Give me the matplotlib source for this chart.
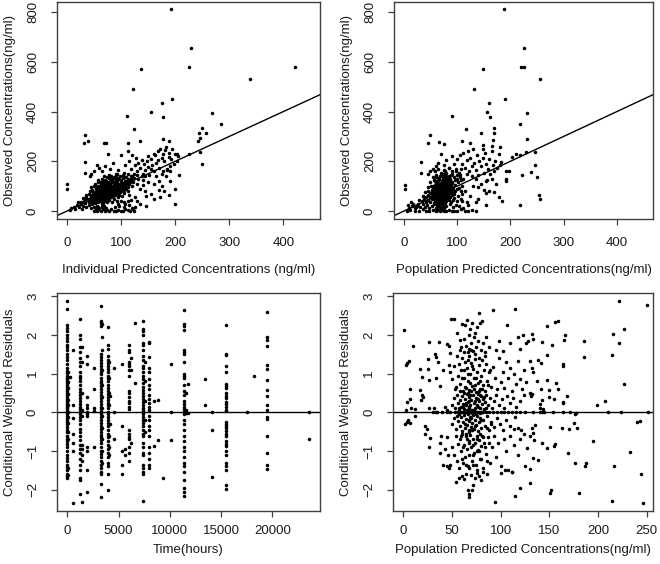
import matplotlib
matplotlib.use("Agg")
import matplotlib.pyplot as plt
import numpy as np

plt.rcParams['font.family'] = ['Liberation Sans', 'DejaVu Sans']

# ---------------- Panel A: IPRED vs observed ----------------
ipred_out = [(193,813),(229,655),(226,580),(422,580),(338,530),(136,572),(122,490),(194,450),
             (176,434),(155,397),(111,381),(178,380),(269,396),(285,352),(124,329),(249,333),
             (245,315),(257,315),(246,292),(243,280),(34,307),(38,282),(32,275),(69,272),(73,275),
             (113,272),(135,282),(34,197),(33,152),(0,107),(0,89),(177,289),(225,228),(249,188),
             (246,239),(204,230),(204,203),(207,145),(188,216),(184,256),(189,283),(199,27),
             (189,64),(172,58),(161,48),(147,21),(147,62)]
ipred_band = [(130,160),(135,175),(140,150),(142,190),(145,165),(148,200),(150,178),(152,145),
              (155,210),(158,185),(160,160),(162,225),(165,195),(168,240),(170,175),(172,250),
              (175,215),(178,230),(180,200),(182,245),(185,165),(188,235),(192,210),(195,250),
              (198,190),(168,205),(160,230),(155,170),(150,220),(145,140),(138,205),(132,195),
              (128,215),(125,185),(120,225),(118,170),(115,200),(112,240),(108,185),(105,155),
              (110,135),(100,225),(95,165),(90,150),(85,195),(80,170),(75,230),(70,180),(65,160),
              (60,175),(55,185),(50,160),(45,150),(42,140),(178,160),(185,170),(190,180),(175,150),
              (165,140),(190,160),(183,140),(200,230),(205,220),(170,120),(160,110),(150,115),
              (140,105),(175,100),(190,120),(200,90),(180,80),(170,85),(155,70),(145,80),(135,90),
              (130,110),(140,125),(120,140),(115,110)]
ipred_low = [(50,2),(55,0),(58,5),(62,2),(66,8),(70,0),(74,3),(78,0),(82,10),(86,2),(90,0),(95,5),
             (100,2),(104,0),(108,8),(112,3),(116,0),(120,12),(124,2),(58,15),(64,18),(72,12),
             (88,15),(96,20),(106,18),(114,25),(122,8),(125,18),(105,35),(112,40),(118,45),
             (108,28),(95,28),(100,42),(125,55),(130,40),(135,30)]
ipred_core = [(5,5),(8,12),(12,18),(15,8),(18,25),(22,15),(25,28),(28,10),(30,20),(33,32),(36,15),
              (40,25),(44,12),(47,30),(50,18),(53,10),(56,22),(60,14),(64,28),(68,20),
              (20,38),(26,35),(32,42),(36,48),(40,35),(43,45),(46,38),(49,42),(52,32),(55,44),
              (58,36),(61,40),(64,46),(67,34),(70,42),(74,38),(78,45),(84,36),(92,40),
              (30,52),(36,58),(40,50),(44,55),(47,60),(50,48),(52,56),(55,52),(57,60),(60,50),
              (62,58),(65,54),(68,60),(71,48),(74,56),(78,52),(82,58),(87,50),(94,55),(102,60),
              (35,65),(40,70),(44,62),(48,72),(51,66),(54,74),(56,64),(59,70),(61,62),(64,72),
              (66,68),(69,74),(72,64),(75,70),(78,66),(81,73),(85,62),(90,70),(97,66),(106,72),
              (115,64),(42,80),(46,85),(50,78),(53,88),(56,82),(58,76),(61,86),(63,80),(66,88),
              (68,78),(71,84),(73,90),(76,80),(79,86),(82,78),(85,88),(88,82),(92,86),(98,78),
              (104,88),(112,82),(45,95),(50,100),(54,92),(57,102),(60,96),(63,104),(66,94),
              (69,100),(72,96),(75,104),(78,92),(81,100),(84,96),(87,104),(90,94),(94,100),
              (99,96),(105,102),(112,95),(120,100),(52,110),(58,115),(62,108),(66,118),(70,112),
              (74,106),(77,116),(80,110),(83,118),(86,108),(89,114),(92,120),(95,110),(99,116),
              (103,108),(108,118),(114,112),(122,116),(58,125),(65,130),(72,122),(78,132),
              (83,126),(88,134),(92,124),(96,130),(100,126),(104,134),(108,122),(112,130),
              (117,126),(124,134),(132,128),(68,140),(78,145),(86,138),(93,148),(98,140),
              (103,146),(108,138),(113,148),(118,142),(124,150),(130,144),(138,140),
              (55,60),(60,65),(62,70),(65,75),(68,66),(70,80),(72,72),(74,85),(76,76),(78,90),
              (80,82),(82,95),(84,88),(86,100),(88,92),(90,105),(92,98),(95,108),(58,55),(63,50),
              (67,58),(71,62),(75,66),(79,72),(83,78),(87,85),(91,90),(96,95),(100,105),(104,112),
              (108,100),(56,70),(60,78),(64,85),(68,92),(72,100),(76,108),(80,115),(52,62),
              (48,55),(45,48),(50,40),(54,45),(58,48),(62,52)]
ipred_dense = [(46,42),(49,50),(51,45),(53,52),(55,48),(57,58),(59,52),(61,60),(63,56),(65,64),
               (67,58),(69,66),(71,70),(73,64),(75,74),(77,68),(79,78),(81,72),(83,82),(85,76),
               (87,90),(89,84),(91,94),(93,88),(95,98),(97,92),(99,104),(101,98),(103,110),
               (105,104),(107,114),(109,108),(111,120),(113,114),(115,124),(117,118),(119,130),
               (47,65),(51,72),(55,80),(59,88),(63,95),(67,102),(71,108),(75,115),(79,122),
               (83,128),(87,118),(91,125),(95,132),(53,38),(57,42),(61,46),(65,50),(69,54),
               (73,58),(77,62),(81,66),(85,70),(89,74),(93,78),(97,82),(101,86),(105,90),(109,94),
               (60,88),(64,98),(68,110),(56,95),(62,118),(70,125),(74,135),(82,140),(90,145),
               (64,40),(68,45),(72,50),(76,55),(80,60),(84,62),(88,66),(92,70),(96,75),(100,80),
               (106,84),(110,88)]

# ---------------- Panel B: PRED vs observed ----------------
pred_out = [(189,813),(225,655),(220,580),(226,580),(256,530),(149,572),(132,490),(190,450),
            (159,434),(157,397),(161,380),(91,381),(231,396),(219,352),(116,329),(170,333),
            (170,315),(145,315),(231,290),(49,307),(46,274),(66,277),(75,270),(32,196),(32,152),
            (2,105),(2,89),(204,216),(210,230),(218,225),(230,239),(247,239),(247,184),(238,157),
            (221,145),(250,137),(192,161),(198,161),(192,130),(192,120),(253,64),(255,48),
            (219,23),(155,23),(179,58),(184,39),(154,71),(173,107),(157,125),(180,185),(182,197),
            (178,231),(181,256),(166,262),(168,285),(149,248),(149,266),(124,275),(109,283)]
pred_band = [(100,210),(105,225),(110,190),(112,235),(115,175),(118,205),(120,240),(122,160),
             (125,215),(128,180),(130,250),(132,195),(135,165),(138,225),(140,145),(142,200),
             (145,180),(148,215),(150,155),(152,235),(155,190),(158,170),(160,210),(162,150),
             (165,240),(168,185),(170,160),(172,200),(175,175),(165,130),(155,120),(145,110),
             (135,130),(128,140),(118,150),(108,170),(95,190),(90,220),(85,175),(80,205),(75,185),
             (70,230),(65,195),(60,180),(55,170),(50,160),(45,150),(105,145),(112,130),(140,95),
             (150,85),(160,80),(170,75),(130,100),(125,60),(140,50),(135,35),(120,25),(110,40),
             (115,80),(100,130),(98,160),(90,150),(85,140)]
pred_low = [(5,0),(12,5),(20,2),(28,0),(35,8),(42,2),(48,0),(55,5),(60,0),(64,3),(68,0),(72,6),
            (76,2),(80,0),(85,4),(90,0),(95,2),(100,0),(108,8),(115,2),(120,0),(128,4),(135,0),
            (15,20),(22,15),(18,30),(25,22),(10,12)]
pred_core = [(8,25),(14,35),(20,12),(26,30),(30,18),(35,28),(40,15),(44,25),(48,12),(52,22),
             (56,30),(60,14),(64,26),(68,18),(72,28),(76,12),(80,22),(86,30),(92,16),(98,26),
             (104,20),(112,14),(28,45),(34,40),(38,48),(42,35),(46,44),(50,38),(53,48),(56,34),
             (59,42),(62,48),(65,36),(68,44),(71,38),(74,48),(77,34),(80,42),(84,46),(88,36),
             (93,44),(100,40),(108,48),(118,38),(36,60),(42,55),(46,65),(50,58),(53,68),(56,52),
             (58,62),(61,56),(63,66),(66,54),(68,64),(70,58),(72,68),(75,52),(77,62),(80,56),
             (83,66),(86,58),(90,64),(95,54),(102,62),(110,68),(40,75),(45,80),(49,72),(52,85),
             (55,78),(58,88),(60,74),(62,82),(64,76),(66,86),(68,72),(70,80),(72,88),(74,76),
             (76,84),(79,74),(82,86),(85,78),(89,84),(94,76),(100,88),(108,80),(46,95),(51,102),
             (55,92),(58,106),(61,98),(63,92),(65,104),(67,96),(69,108),(71,94),(73,100),(75,108),
             (77,92),(80,102),(83,96),(86,106),(90,98),(96,104),(103,94),(110,100),(50,115),
             (56,125),(60,112),(63,120),(66,128),(69,114),(72,122),(74,116),(77,126),(80,112),
             (83,120),(87,128),(91,116),(96,124),(102,118),(108,126),(54,135),(60,145),(65,132),
             (69,140),(73,148),(76,134),(80,142),(84,136),(89,146),(94,138),(100,144),(106,136),
             (58,160),(64,170),(70,155),(75,165),(80,152),(85,172),(90,160),(97,168),(104,155),
             (60,60),(62,70),(64,80),(66,90),(68,100),(70,62),(72,74),(74,86),(76,96),(78,70),
             (65,60),(67,72),(69,84),(71,96),(73,108),(75,80),(77,90),(70,48),(66,50),(62,40),
             (58,50),(55,64),(57,76),(59,86),(61,100),(63,110),(80,78),(82,92),(84,100),(86,86),
             (88,72),(78,58),(60,30),(66,28),(72,36)]
pred_dense = [(58,45),(60,52),(62,58),(63,64),(64,70),(65,76),(66,82),(67,88),(68,94),(69,100),
              (70,106),(71,112),(72,118),(73,124),(74,130),(75,136),(76,60),(77,66),(78,72),
              (79,78),(80,84),(81,90),(82,96),(83,102),(84,108),(85,114),(86,120),(87,126),
              (60,70),(61,80),(62,90),(63,100),(64,110),(65,120),(66,130),(67,140),(68,50),
              (69,56),(70,66),(71,76),(72,86),(73,96),(74,106),(75,116),(76,126),(77,40),(78,48),
              (79,98),(80,118),(81,128),(82,54),(83,64),(84,74),(85,84),(86,94),(88,104),(90,112),
              (92,90),(94,70),(96,80),(57,60),(56,70),(55,85),(54,100),(53,58),(52,75),(59,120),
              (61,135),(70,145),(75,150),(78,160),(66,40),(64,32),(72,44),(74,20),(70,10),(62,15)]

# ---------------- Panel C: time vs CWRES (columns of samples) ----------------
col_0 = [2.87,2.67,2.25,2.18,2.1,2.0,1.92,1.85,1.75,1.68,1.6,1.5,1.42,1.35,1.25,1.15,1.08,1.02,
         0.95,0.9,0.85,0.8,0.75,0.7,0.65,0.6,0.55,0.5,0.45,0.4,0.35,0.3,0.25,0.2,0.15,0.1,0.05,
         0.0,0.0,-0.05,-0.1,-0.15,-0.2,-0.25,-0.3,-0.38,-0.45,-0.52,-0.6,-0.68,-0.75,-0.82,-0.9,
         -1.0,-1.1,-1.18,-1.25,-1.35,-1.42,-1.5,-1.6,-1.65,-1.7]
col_60 = [1.05,0.92,0.78,0.62,0.48,0.32,0.18,0.02,-0.12,-0.28,-0.5,-0.7,-1.45,-1.62]
col_260 = [0.92]
col_600 = [-2.35,-1.0,-0.8,-0.55,-0.15,0.2,1.6]
col_1250 = [2.42,2.0,1.9,1.7,1.55,1.4,1.3,1.2,1.05,0.95,0.9,0.82,0.7,0.6,0.52,0.45,0.38,0.3,
            0.22,0.15,0.08,0.02,0.0,-0.05,-0.12,-0.2,-0.3,-0.42,-0.5,-0.6,-0.72,-0.85,-0.95,
            -1.05,-1.2,-1.35,-1.5,-1.7,-1.75,-2.1]
col_1450 = [1.7,1.3,0.5,0.05,-0.1,-0.85,-0.95,-1.1,-1.25,-2.32]
col_1950 = [1.45,1.25,0.4,0.2,0.1,0.0,-0.05,-0.1,-0.9,-1.0,-1.5,-2.07]
col_2650 = [1.15,0.6,0.12,0.03,-0.9]
col_3300 = [2.75,2.35,2.3,2.22,1.5,1.42,1.35,1.28,1.2,1.12,1.05,0.98,0.9,0.82,0.75,0.68,0.6,
            0.52,0.45,0.38,0.3,0.22,0.15,0.08,0.02,0.0,-0.05,-0.12,-0.2,-0.28,-0.35,-0.42,-0.5,
            -0.58,-0.65,-0.72,-0.8,-0.9,-1.0,-1.08,-1.15,-1.25,-1.35,-1.45,-1.55,-1.6,-1.85,-2.2]
col_3420 = [2.28,1.95,1.6,1.1,0.7,0.4,0.1,-0.1,-0.4,-0.7,-1.0,-1.3]
col_3950 = [2.2,1.75,1.65,1.45,1.35,1.28,1.2,1.12,1.05,0.95,0.88,0.8,0.7,0.62,0.55,0.48,0.4,
            0.32,0.25,0.18,0.1,0.02,-0.05,-0.12,-0.2,-0.28,-0.35,-0.45,-0.55,-0.65,-0.75,-0.85,
            -0.95,-1.05,-1.15,-1.3,-1.4,-1.6,-2.0]
col_4050 = [1.3,0.9,0.5,0.2,-0.3,-0.6,-0.9,-1.1]
col_4160 = [0.43,-0.3]
col_4600 = [1.15,0.0,-0.7]
col_5300 = [1.25,-0.35,-1.0,-1.35,-1.6]
col_5600 = [-1.1,-0.95]
col_6000 = [1.75,1.6,1.55,1.3,1.25,1.2,1.1,0.95,0.55,0.5,0.4,0.3,0.25,0.15,0.08,-0.45,-0.55,
            -0.65,-0.7,-0.9,-1.05,-1.25]
col_6200 = [1.1,1.4,-0.8]
col_6650 = [2.32,0.75]
col_7400 = [2.35,2.15,2.1,2.0,1.8,1.75,1.6,1.45,1.35,1.2,1.15,1.05,0.95,0.85,0.75,0.65,0.58,
            0.5,0.42,0.35,0.28,0.2,0.12,0.05,0.0,-0.05,-0.12,-0.2,-0.28,-0.35,-0.45,-0.55,-0.6,
            -0.8,-0.9,-1.05,-1.1,-1.35,-1.45,-1.55,-1.6,-2.28]
col_7550 = [1.3,0.8,0.3,-0.2,-0.5]
col_8000 = [1.82,1.8,1.42,1.15,1.05,0.85,0.7,0.6,0.45,0.35,0.25,0.15,0.05,-0.1,-0.2,-0.35,
            -0.45,-0.6,-0.9,-1.05,-1.2,-1.35,-1.45]
col_8500 = [0.3,-0.88]
col_8800 = [-0.72,0.32]
col_9300 = [-1.7]
col_10100 = [1.25,0.0,-0.72]
col_11400 = [2.65,2.28,2.22,2.12,1.6,1.55,1.5,1.3,1.0,0.95,0.88,0.7,0.55,0.45,0.3,0.22,0.15,
             0.08,0.02,0.0,-0.05,-0.2,-0.3,-0.45,-0.6,-0.75,-0.9,-1.0,-1.15,-1.3,-1.4,-1.55,
             -1.75,-1.95,-2.05,-2.15]
col_11600 = [0.05,-0.03,0.5]
col_11800 = [0.73,-0.03]
col_13450 = [0.87,0.18]
col_14130 = [-0.45,-1.68,0.0]
col_15450 = [2.25,1.5,1.47,1.2,1.05,0.73,0.67,0.62,0.5,0.43,0.36,0.28,0.22,0.14,0.07,0.03,
             -0.26,-0.31,-0.36,-0.4,-0.49,-0.55,-0.62,-0.75,-0.81,-0.88,-0.99,-1.09,-1.31,
             -1.4,-1.48,-1.87,-1.97]
col_17500 = [0.0]
col_18220 = [0.94]
col_19480 = [2.59,1.94,1.88,1.71,1.22,1.12,0.83,0.59,0.41,0.2,0.05,-0.13,-0.17,-0.62,-1.05,
             -1.36,-1.46]
col_23600 = [0.0,-0.7]

time_columns = [(0,col_0),(60,col_60),(260,col_260),(600,col_600),(1250,col_1250),
                (1450,col_1450),(1950,col_1950),(2650,col_2650),(3300,col_3300),
                (3420,col_3420),(3950,col_3950),(4050,col_4050),(4160,col_4160),
                (4600,col_4600),(5300,col_5300),(5600,col_5600),(6000,col_6000),
                (6200,col_6200),(6650,col_6650),(7400,col_7400),(7550,col_7550),
                (8000,col_8000),(8500,col_8500),(8800,col_8800),(9300,col_9300),
                (10100,col_10100),(11400,col_11400),(11600,col_11600),(11800,col_11800),
                (13450,col_13450),(14130,col_14130),(15450,col_15450),(17500,col_17500),
                (18220,col_18220),(19480,col_19480),(23600,col_23600)]

# ---------------- Panel D: PRED vs CWRES ----------------
cw_right = [(222,2.87),(250.4,2.78),(147.4,2.23),(156,2.34),(159,2.36),(166.5,2.0),(165.5,1.87),
            (142.5,1.81),(152.5,1.74),(133,1.9),(186,1.84),(186,1.44),(215.5,2.03),(226.8,2.16),
            (222,1.78),(214.5,1.47),(147.4,1.47),(138.7,1.36),(141.5,1.28),(164.5,1.26),
            (164.5,1.21),(130,1.34),(132.5,1.14),(133,1.04),(137.4,0.82),(147.4,0.84),(157,0.75),
            (159,0.6),(141.5,0.61),(149.4,0.58),(227,0.72),(130,0.49),(132,0.48),(131,0.41),
            (149.5,0.4),(155,0.35),(168,0.41),(143,0.33),(164.6,0.26),(164.6,0.23),(141,0.22),
            (141,0.11),(144,0.09),(207,0.3),(199.4,0.19),(133,0.0),(142.5,0.0),(154,0.0),
            (164.6,0.0),(171.8,0.0),(177,-0.02),(210,0.0),(224,0.01),(252,0.0),(176,-0.05),
            (243.3,-0.22),(239.9,-0.25),(175,-0.28),(162.8,-0.41),(170,-0.44),(178.5,-0.41),
            (151,-0.38),(135.4,-0.34),(132,-0.41),(133,-0.54),(134,-0.72),(142.5,-0.78),
            (156,-0.81),(155,-0.87),(148,-0.93),(194.6,-0.74),(233,-1.02),(169.6,-1.05),
            (133,-1.19),(138.7,-1.23),(130,-1.47),(176,-1.31),(188,-1.3),(187,-1.39),(217,-1.38),
            (244.6,-1.6),(130,-1.83),(151.8,-2.0),(151,-2.08),(181,-2.08),(215,-2.28),
            (246.7,-2.34)]
cw_left = [(0.7,2.14),(3,1.22),(4,1.28),(5.5,1.34),(7,0.61),(4,0.28),(7,0.34),(2,-0.3),
           (4,-0.25),(7,-0.28),(3,0.05),(8,0.1),(12,0.08),(5,-0.2),(9.6,1.71),(17,1.13),
           (19,0.91),(17,0.57),(19,0.46),(20,0.4),(18,0.31),(26.7,1.82),(25,1.39),(25,1.13),
           (26,0.83),(26.7,0.12),(26,-0.9),(27,-0.66),(22,-0.35),(24,-0.42),(22.6,-0.55),
           (12,-0.09),(33,1.52),(34,1.42),(36,1.3),(37,1.82),(41,1.1),(34,0.9),(38,0.68),
           (43,0.14),(44.5,0.05),(31.5,0.1),(33.5,0.01),(39,-0.6),(38,-0.8),(43,-0.94),
           (46,-1.11),(41,-1.36),(44.5,-1.38),(46.6,-1.43),(37.7,-1.04),(44.5,1.77),
           (46.6,1.72),(48,1.53),(49,2.42),(47,1.22)]
cw_core = [(52,2.42),(55,2.05),(58,1.62),(60,2.28),(62,1.9),(63,2.25),(64,1.72),(65,2.38),
           (66,1.55),(67,2.0),(68,1.65),(69,2.15),(70,1.78),(71,2.3),(72,1.58),(73,1.95),
           (74,2.05),(75,1.7),(76,2.2),(77,1.85),(78,2.58),(79,2.3),(80,1.6),(81,2.35),
           (82,1.78),(84,1.55),(85,1.95),(88,1.7),(92,2.65),(95,1.62),(98,1.85),(102,1.58),
           (107,2.25),(110,1.8),(115,2.68),(118,1.95),(120,1.65),(123,2.0),(126,1.78),
           (128,1.85),(132,2.02),(58,1.88),
           (48,1.05),(50,0.85),(52,1.2),(54,0.65),(55,1.45),(56,0.95),(57,1.25),(58,0.72),
           (59,1.1),(60,1.4),(61,0.55),(62,0.88),(63,1.3),(64,0.62),(65,1.15),(66,0.8),
           (67,1.45),(68,0.58),(69,1.0),(70,1.28),(71,0.68),(72,1.12),(73,0.9),(74,1.38),
           (75,0.52),(76,1.05),(77,0.75),(78,1.22),(79,0.6),(80,0.95),(81,1.35),(82,0.7),
           (83,1.1),(84,0.55),(85,1.25),(86,0.82),(88,1.05),(90,0.65),(92,1.18),(94,0.9),
           (96,0.6),(98,1.4),(100,0.78),(102,1.05),(104,0.62),(106,1.3),(108,0.88),(110,1.15),
           (112,0.55),(114,1.0),(116,0.72),(118,1.32),(120,0.85),(122,0.6),(124,1.1),(126,0.78),
           (50,0.2),(52,0.38),(53,0.12),(55,0.45),(56,0.25),(57,0.05),(58,0.32),(59,0.15),
           (60,0.42),(61,0.22),(62,0.08),(63,0.35),(64,0.18),(65,0.48),(66,0.28),(67,0.1),
           (68,0.4),(69,0.2),(70,0.32),(71,0.05),(72,0.45),(73,0.25),(74,0.12),(75,0.38),
           (76,0.2),(77,0.48),(78,0.3),(79,0.1),(80,0.42),(81,0.22),(82,0.35),(83,0.08),
           (84,0.28),(85,0.45),(87,0.18),(89,0.38),(91,0.12),(93,0.3),(95,0.45),(98,0.2),
           (101,0.35),(104,0.1),(107,0.42),(110,0.25),(113,0.38),(116,0.15),(120,0.3),
           (124,0.45),(62,0.5),(68,0.15),(74,0.3),(79,0.45),
           (30,0.0),(35,0.0),(40,0.0),(45,0.0),(48,0.0),(53,0.0),(56,0.0),(59,0.0),(61,0.0),
           (64,0.0),(66,0.0),(68,0.0),(70,0.0),(72,0.0),(74,0.0),(76,0.0),(78,0.0),(80,0.0),
           (82,0.0),(85,0.0),(88,0.0),(92,0.0),(96,0.0),(100,0.0),(104,0.0),(108,0.0),
           (112,0.0),(116,0.0),(120,0.0),(125,0.0),(140,0.0),(145,0.0),(62,-0.03),(67,0.03),
           (71,-0.02),(75,0.02),(79,-0.03),
           (50,-0.3),(52,-0.15),(54,-0.42),(56,-0.22),(57,-0.05),(58,-0.35),(59,-0.12),
           (60,-0.48),(61,-0.25),(62,-0.08),(63,-0.4),(64,-0.18),(65,-0.32),(66,-0.05),
           (67,-0.45),(68,-0.22),(69,-0.12),(70,-0.38),(71,-0.28),(72,-0.08),(73,-0.42),
           (74,-0.2),(75,-0.32),(76,-0.1),(77,-0.48),(78,-0.25),(79,-0.15),(80,-0.4),(82,-0.2),
           (84,-0.35),(86,-0.1),(88,-0.45),(90,-0.25),(93,-0.38),(96,-0.15),(99,-0.3),
           (102,-0.45),(106,-0.2),(110,-0.35),(114,-0.42),(118,-0.4),(121,-0.45),(115,-0.12),
           (45,-0.65),(48,-1.35),(50,-0.9),(52,-1.1),(54,-0.6),(55,-1.25),(56,-0.82),(57,-1.45),
           (58,-0.7),(59,-1.0),(60,-0.55),(61,-1.3),(62,-0.85),(63,-1.15),(64,-0.62),(65,-0.95),
           (66,-1.4),(67,-0.75),(68,-1.1),(69,-0.58),(70,-0.9),(71,-1.25),(72,-0.68),(73,-1.05),
           (74,-0.8),(75,-1.35),(76,-0.6),(77,-0.98),(78,-0.72),(79,-1.2),(80,-0.88),(81,-0.6),
           (82,-1.45),(83,-0.78),(85,-1.08),(87,-0.65),(89,-1.3),(91,-0.9),(93,-0.6),(95,-1.15),
           (97,-0.8),(100,-1.4),(103,-0.7),(106,-1.0),(108,-1.5),(110,-0.6),(112,-1.55),
           (114,-0.85),(118,-1.1),(120,-0.7),(124,-0.55),(127,-0.92),(130,-0.62),
           (54,-1.8),(57,-1.7),(60,-1.65),(62,-1.72),(64,-1.6),(66,-2.0),(67,-2.1),(68,-2.18),
           (70,-1.62),(71,-2.02),(72,-1.88),(74,-1.7),(76,-1.58),(78,-1.65),(80,-1.75),
           (82,-1.55),(86,-1.6),(94,-2.32),(100,-1.58),(105,-1.5),(112,-1.55),(115,-2.17),
           (120,-1.95),(125,-1.4)]
cw_dense = [(58,0.55),(59,-0.6),(60,0.9),(61,-0.9),(62,1.1),(63,-0.3),(64,0.25),(65,-0.7),
            (66,1.0),(67,0.3),(68,-0.5),(69,0.75),(70,-0.15),(71,1.2),(72,-0.85),(73,0.6),
            (74,-0.35),(75,0.9),(76,-0.7),(77,0.15),(78,-1.0),(79,0.8),(80,-0.2),(81,0.6),
            (82,-0.65),(83,0.4),(84,-0.9),(85,0.1),(86,-0.4),(87,0.7),(88,-0.8),(89,1.1),
            (90,-0.3),(61,0.15),(63,0.65),(65,0.05),(67,-0.2),(69,0.45),(71,-0.45),(73,0.05),
            (75,-0.05),(77,0.35),(79,-0.55),(81,0.0),(66,0.5),(70,0.55),(74,0.7),(78,0.55),
            (64,-0.55),(68,-0.8),(72,-1.1),(76,-1.0),(80,-1.2),(62,1.55),(66,1.35),(70,1.6),
            (74,1.5),(78,1.4),(68,-1.45),(72,-1.35),(76,-1.5),(84,1.45),(86,-1.25),(60,-1.2),
            (57,0.1),(55,-0.1),(53,0.6),(59,1.7),(64,-1.35)]

xticks_conc = [0, 100, 200, 300, 400]
yticks_conc = [0, 200, 400, 600, 800]
xticks_time = [0, 5000, 10000, 15000, 20000]
yticks_cw = [-2, -1, 0, 1, 2, 3]
xticks_pred = [0, 50, 100, 150, 200, 250]

TXT = '#1a1a1a'
EDGE = '#404040'

fig = plt.figure(figsize=(6.6, 5.64), dpi=100)
ax_tl = fig.add_axes([0.0864, 0.6117, 0.3985, 0.3848])
ax_tr = fig.add_axes([0.5970, 0.6117, 0.3924, 0.3848])
ax_bl = fig.add_axes([0.0864, 0.0940, 0.3985, 0.3865])
ax_br = fig.add_axes([0.5959, 0.0940, 0.3930, 0.3865])


def style(ax, xticks, yticks, xlabel, ylabel, xpad, xlabpad):
    for s in ax.spines.values():
        s.set_color(EDGE)
        s.set_linewidth(1.0)
    ax.set_xticks(xticks)
    ax.set_yticks(yticks)
    ax.tick_params(direction='out', length=4.5, width=0.9, color=EDGE,
                   labelsize=9.5, labelcolor=TXT)
    ax.tick_params(axis='x', pad=xpad)
    ax.tick_params(axis='y', pad=8.5)
    for lab in ax.get_yticklabels():
        lab.set_rotation(90)
        lab.set_va('center')
    ax.set_xlabel(xlabel, fontsize=9.5, color=TXT, labelpad=xlabpad)
    ax.set_ylabel(ylabel, fontsize=9.5, color=TXT, labelpad=8)


def dots(ax, pts):
    xs = [p[0] for p in pts]
    ys = [p[1] for p in pts]
    ax.scatter(xs, ys, s=6.5, c='black', marker='o', linewidths=0, zorder=3)


# Panel A
dots(ax_tl, ipred_core + ipred_dense + ipred_band + ipred_low + ipred_out)
ax_tl.axline((0, 0), slope=1, color='black', lw=1.0, zorder=2)
ax_tl.set_xlim(-18.5, 468)
ax_tl.set_ylim(-32, 841)
style(ax_tl, xticks_conc, yticks_conc,
      'Individual Predicted Concentrations (ng/ml)', 'Observed Concentrations(ng/ml)', 8.5, 10.5)

# Panel B
dots(ax_tr, pred_core + pred_dense + pred_band + pred_low + pred_out)
ax_tr.axline((0, 0), slope=1, color='black', lw=1.0, zorder=2)
ax_tr.set_xlim(-18.5, 468)
ax_tr.set_ylim(-32, 841)
style(ax_tr, xticks_conc, yticks_conc,
      'Population Predicted Concentrations(ng/ml)', 'Observed Concentrations(ng/ml)', 8.5, 10.5)

# Panel C
tpts = []
for t, vals in time_columns:
    for v in vals:
        tpts.append((t, v))
dots(ax_bl, tpts)
ax_bl.axhline(0, color='black', lw=1.0, zorder=2)
ax_bl.set_xlim(-1000, 24650)
ax_bl.set_ylim(-2.55, 3.085)
style(ax_bl, xticks_time, yticks_cw, 'Time(hours)', 'Conditional Weighted Residuals', 5.5, 5)

# Panel D
dots(ax_br, cw_core + cw_dense + cw_left + cw_right)
ax_br.axhline(0, color='black', lw=1.0, zorder=2)
ax_br.set_xlim(-10.3, 256.3)
ax_br.set_ylim(-2.55, 3.085)
style(ax_br, xticks_pred, yticks_cw,
      'Population Predicted Concentrations(ng/ml)', 'Conditional Weighted Residuals', 5.5, 5)

fig.savefig('out.png', dpi=100)
